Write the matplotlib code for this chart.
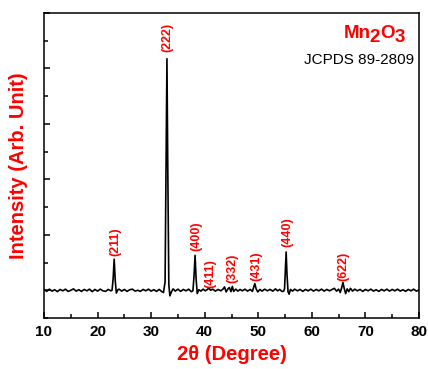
import matplotlib
matplotlib.use('Agg')
import matplotlib.pyplot as plt
from matplotlib.ticker import MultipleLocator

plt.rcParams['font.family'] = ['Liberation Sans', 'DejaVu Sans']

# XRD pattern (2theta in degrees, intensity in arb. units)
two_theta = [
    10, 10.5, 11, 11.5, 12, 12.5, 13, 13.5, 14, 14.5, 15, 15.5, 16, 16.5, 17, 17.5,
    18, 18.5, 19, 19.5, 20, 20.5, 21, 21.5, 22, 22.5,
    22.7, 22.9, 23.1, 23.3, 23.5, 23.8,
    24, 24.5, 25, 25.5, 26, 26.5, 27, 27.5, 28, 28.5, 29, 29.5, 30, 30.5, 31, 31.5, 32,
    32.3, 32.6, 32.8, 32.95, 33.1, 33.3, 33.5, 33.8, 34.1,
    34.5, 35, 35.5, 36, 36.5, 37, 37.5,
    37.8, 38.0, 38.2, 38.4, 38.6, 38.9,
    39.3, 39.7, 40.1, 40.5, 40.8, 41.1, 41.5, 42, 42.5, 43, 43.4,
    43.7, 44.0, 44.3, 44.6, 44.9, 45.15, 45.4, 45.8, 46.2, 46.6, 47, 47.5, 48, 48.5, 48.9,
    49.1, 49.35, 49.6, 49.9, 50.3, 50.7, 51.2, 51.7, 52.2, 52.7, 53.2, 53.6, 54, 54.4, 54.7,
    54.9, 55.05, 55.2, 55.35, 55.55, 55.75, 56, 56.4,
    56.8, 57.3, 57.8, 58.3, 58.8, 59.3, 59.8, 60.3, 60.8, 61.3, 61.8, 62.3, 62.8, 63.3,
    63.8, 64.2, 64.6, 65.0, 65.3,
    65.55, 65.8, 66.05, 66.3, 66.6, 66.9, 67.2, 67.6, 68, 68.5, 69, 69.5, 70,
    70.5, 71, 71.5, 72, 72.5, 73, 73.5, 74, 74.5, 75, 75.5, 76, 76.5, 77, 77.5,
    78, 78.5, 79, 79.5, 80,
]
intensity = [
    3, -4, 4, -3, 2, -5, 3, -2, 4, -4, 0, 5, -3, 2, -4, 3,
    -2, 4, -5, 3, -3, 4, -2, -4, 3, -2,
    0, 40, 112, 35, -10, 2,
    4, -3, 3, -4, 2, 4, -3, 0, -4, 3, -2, 4, -3, 2, -4, 3, -5,
    -8, 30, 500, 835, 450, 20, -20, -5, 5,
    -3, 4, -4, 3, -2, 4, -5,
    -2, 50, 126, 40, -12, 2,
    -3, 4, -2, 3, 8, 0, 4, -3, 3, -2, 4,
    12, -6, 4, 10, -5, 14, -4, 4, -3, 3, -2, 4, -3, 3, -4,
    8, 24, 5, -6, 3, -3, 4, -2, 3, -3, 5, -2, 3, -4, -4,
    5, 70, 138, 60, -5, -14, 3, -3,
    4, -2, 3, -4, 3, -2, 4, -3, 3, -2, 4, -3, 3, -2,
    3, 7, -3, 4, -8,
    8, 28, 6, -12, 5, -5, 7, -3, 4, -2, 3, -4, 3,
    -2, 4, -3, 2, -4, 3, -2, 4, -3, 3, -2, 4, -3, 2, -4,
    3, -2, 4, -3, 1,
]

# peak indexing labels
hkl = ['(211)', '(222)', '(400)', '(411)', '(332)', '(431)', '(440)', '(622)']
hkl_x = [23.25, 32.95, 38.4, 41.0, 45.1, 49.7, 55.4, 65.8]
hkl_y = [123, 858, 141, 7, 25, 32, 155, 32]

fig = plt.figure(figsize=(4.28, 3.69), dpi=100)
ax = fig.add_axes([0.1028, 0.1382, 0.8762, 0.8266])

ax.plot(two_theta, intensity, color='black', lw=1.2)

for lab, x, y in zip(hkl, hkl_x, hkl_y):
    ax.text(x, y, lab, rotation=90, ha='center', va='bottom',
            color='red', fontsize=9, fontweight='bold')

ax.set_xlim(10, 80)
ax.set_ylim(-100, 1000)
ax.xaxis.set_major_locator(MultipleLocator(10))
ax.xaxis.set_minor_locator(MultipleLocator(5))
ax.yaxis.set_major_locator(MultipleLocator(200))
ax.yaxis.set_minor_locator(MultipleLocator(100))
ax.tick_params(which='both', direction='in', top=False, right=False, width=1.1)
ax.tick_params(which='major', length=4.5)
ax.tick_params(which='minor', length=2.8)
ax.tick_params(axis='x', labelsize=11, pad=5)
ax.set_yticklabels([])
for lab in ax.get_xticklabels():
    lab.set_fontweight('bold')
for sp in ax.spines.values():
    sp.set_linewidth(1.1)

ax.set_xlabel('2θ (Degree)', color='red', fontsize=14.5, fontweight='bold', labelpad=4)
ax.set_ylabel('Intensity (Arb. Unit)', color='red', fontsize=14.5, fontweight='bold', labelpad=8)

# Mn2O3 with full-size lowered subscripts, laid out piece by piece in pixels
renderer = fig.canvas.get_renderer()
parts = [('Mn', 0, -1.0), ('2', -4, 0.0), ('O', 0, 0.0), ('3', -4, 0)]
widths = []
for s, dy, kern in parts:
    t = fig.text(0, 0, s, fontsize=13.5, fontweight='bold', color='red')
    widths.append(t.get_window_extent(renderer).width + kern)
    t.remove()
x_px = 405 - sum(widths)
for (s, dy, kern), w in zip(parts, widths):
    fig.text(x_px / 428, (369 - 33 + dy) / 369, s, fontsize=13.5, fontweight='bold',
             color='red', va='center', ha='left')
    x_px += w

fig.text(414 / 428, (369 - 60) / 369, 'JCPDS 89-2809', fontsize=11,
         color='black', ha='right', va='center')

fig.savefig('out.png', dpi=100)
